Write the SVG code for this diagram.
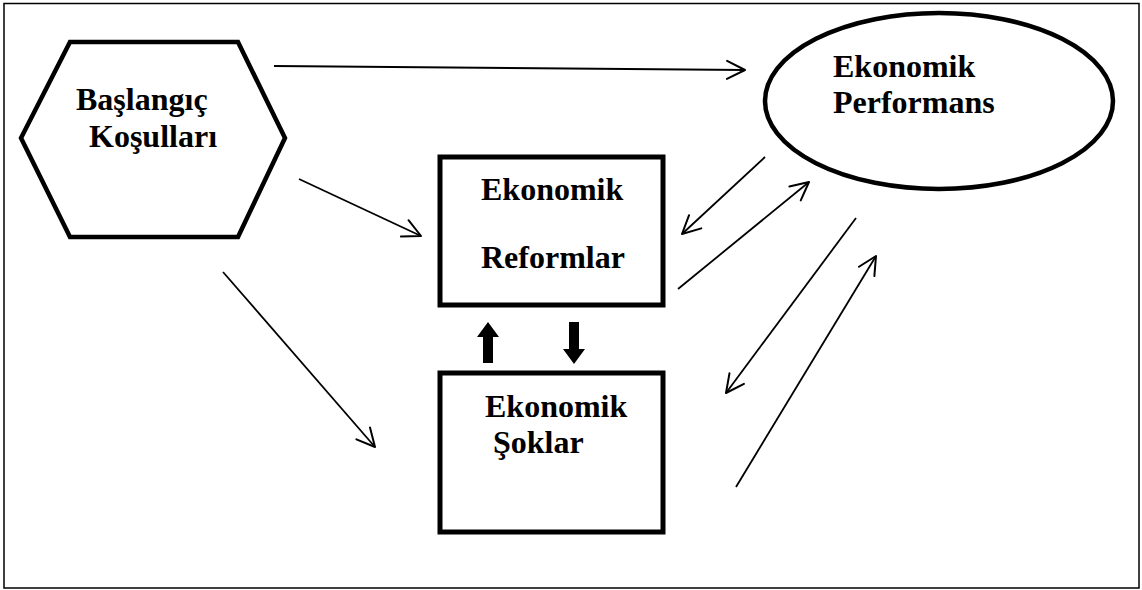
<svg xmlns="http://www.w3.org/2000/svg" width="1142" height="590" viewBox="0 0 1142 590">
<style>
.lbl{font-family:"Liberation Serif","Times New Roman",serif;font-weight:bold;font-size:32px;fill:#000}
.shape{fill:#fff;stroke:#000}
.con{stroke:#000;stroke-width:1.8;fill:none;marker-end:url(#open)}
</style>
<defs>
<marker id="open" markerUnits="userSpaceOnUse" markerWidth="24" markerHeight="24" viewBox="0 0 24 24" refX="20" refY="12" orient="auto">
<path d="M2,3 L20,12 L2,21" fill="none" stroke="#000" stroke-width="2" stroke-linecap="round" stroke-linejoin="round"/>
</marker>
</defs>
<rect x="0" y="0" width="1142" height="590" fill="#fff"/>
<rect x="4" y="3.5" width="1135" height="584.5" fill="none" stroke="#000" stroke-width="1.5"/>
<g id="baslangic">
<polygon class="shape" stroke-width="4.5" points="70,42 238,42 285,138 238,237 70,237 21,138"/>
<text class="lbl" x="76" y="110">Başlangıç</text>
<text class="lbl" x="89" y="147">Koşulları</text>
</g>
<g id="performans">
<ellipse class="shape" stroke-width="4.5" cx="939" cy="101" rx="174" ry="88"/>
<text class="lbl" x="833" y="77">Ekonomik</text>
<text class="lbl" x="833" y="113">Performans</text>
</g>
<g id="reformlar">
<rect class="shape" stroke-width="5" x="440" y="157" width="223" height="148"/>
<text class="lbl" x="481" y="200">Ekonomik</text>
<text class="lbl" x="481" y="268">Reformlar</text>
</g>
<g id="soklar">
<rect class="shape" stroke-width="5" x="440" y="373" width="223" height="159"/>
<text class="lbl" x="485" y="417">Ekonomik</text>
<text class="lbl" x="493" y="453">Şoklar</text>
</g>
<g id="connectors">
<line class="con" x1="274" y1="66" x2="745" y2="70"/>
<line class="con" x1="299" y1="179" x2="421" y2="236"/>
<line class="con" x1="223" y1="272" x2="375" y2="447"/>
<line class="con" x1="765" y1="157" x2="682" y2="234"/>
<line class="con" x1="678" y1="289" x2="809" y2="182"/>
<line class="con" x1="856" y1="218" x2="726" y2="393"/>
<line class="con" x1="736" y1="487" x2="876" y2="256"/>
<polygon fill="#000" points="483,363 493,363 493,337 499,337 488,322 477,337 483,337"/>
<polygon fill="#000" points="569,322 579,322 579,349 585,349 574,364 563,349 569,349"/>
</g>
</svg>
